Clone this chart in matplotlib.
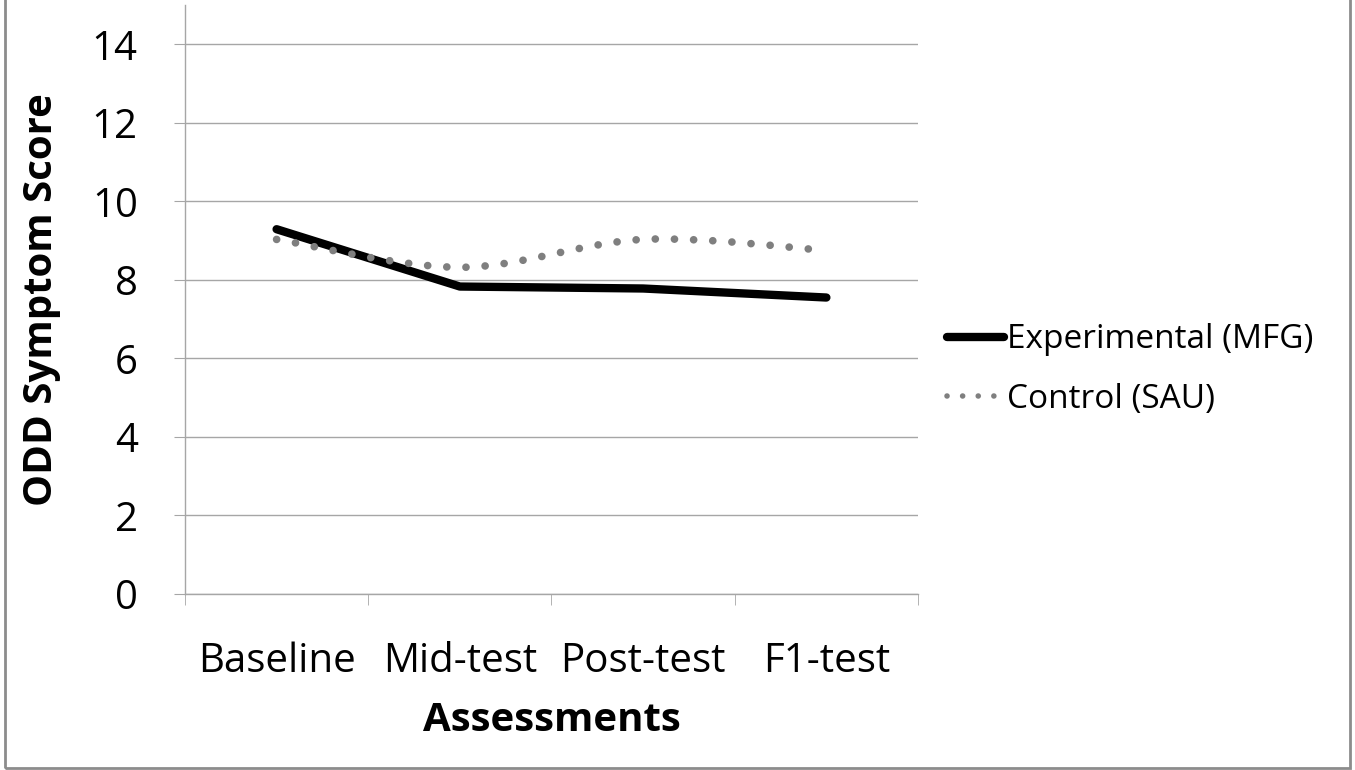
import matplotlib.pyplot as plt
import numpy as np
from matplotlib.path import Path
from matplotlib.patches import PathPatch, Rectangle
from matplotlib.lines import Line2D

# dados
categorias = ['Baseline', 'Mid-test', 'Post-test', 'F1-test']
experimental = [9.29, 7.83, 7.78, 7.55]
controle = [9.03, 8.32, 9.03, 8.75]
y_ticks = [0, 2, 4, 6, 8, 10, 12, 14]

FONTE = 'Open Sans'
CINZA = '#a6a6a6'
COR_CONTROLE = '#7f7f7f'


def curva_suave(xs, ys):
    """caminho bezier tipo catmull-rom (linha suavizada estilo excel)"""
    pts = np.column_stack([xs, ys]).astype(float)
    ext = np.vstack([pts[0], pts, pts[-1]])
    verts = [pts[0]]
    codes = [Path.MOVETO]
    for i in range(1, len(ext) - 2):
        p0, p1, p2, p3 = ext[i - 1], ext[i], ext[i + 1], ext[i + 2]
        verts += [p1 + (p2 - p0) / 6, p2 - (p3 - p1) / 6, p2]
        codes += [Path.CURVE4] * 3
    return Path(verts, codes)


fig = plt.figure(figsize=(13.55, 7.7), dpi=100)
ax = fig.add_axes([0.1365, 0.2286, 0.541, 0.7649])

x = np.arange(len(categorias))
ax.plot(x, experimental, color='black', lw=6, solid_capstyle='round',
        solid_joinstyle='round', zorder=3)

patch = PathPatch(curva_suave(x, controle), facecolor='none',
                  edgecolor=COR_CONTROLE, lw=5.5, linestyle=(0, (0.01, 2.5)),
                  capstyle='round', zorder=4)
ax.add_patch(patch)

ax.set_xlim(-0.5, len(categorias) - 0.5)
ax.set_ylim(0, 15)
ax.set_yticks(y_ticks)
ax.set_yticklabels([str(v) for v in y_ticks], fontsize=29, family=FONTE)
ax.grid(axis='y', color=CINZA, lw=1)
ax.set_axisbelow(True)

ax.set_xticks(x)
ax.set_xticklabels(categorias, fontsize=29, family=FONTE)
ax.set_xticks(np.arange(-0.5, len(categorias)), minor=True)
ax.tick_params(axis='x', which='major', length=0, pad=34)
ax.tick_params(axis='x', which='minor', length=8, color=CINZA, direction='out')
ax.tick_params(axis='y', length=8, color=CINZA, pad=26)

for s in ['top', 'right']:
    ax.spines[s].set_visible(False)
for s in ['left', 'bottom']:
    ax.spines[s].set_color(CINZA)
    ax.spines[s].set_linewidth(1)

ax.set_xlabel('Assessments', fontsize=29, fontweight='bold', family=FONTE,
              labelpad=14)
ax.set_ylabel('ODD Symptom Score', fontsize=29, fontweight='bold',
              family=FONTE, labelpad=22)

handles = [
    Line2D([], [], color='black', lw=6, solid_capstyle='round'),
    Line2D([], [], color=COR_CONTROLE, lw=4, linestyle=(0, (0.01, 2.8)),
           dash_capstyle='round'),
]
fig.legend(handles, ['Experimental (MFG)', 'Control (SAU)'],
           loc='center left', bbox_to_anchor=(0.699, 0.52), frameon=False,
           prop={'family': FONTE, 'size': 24}, handlelength=1.7,
           handletextpad=0.1, labelspacing=0.8, borderpad=0,
           borderaxespad=0)

# moldura
fig.patches.append(Rectangle((0.004, 0.003), 0.992, 1.5, transform=fig.transFigure,
                             fill=False, edgecolor='#8c8c8c', lw=2))

fig.savefig('out.png', dpi=100)
